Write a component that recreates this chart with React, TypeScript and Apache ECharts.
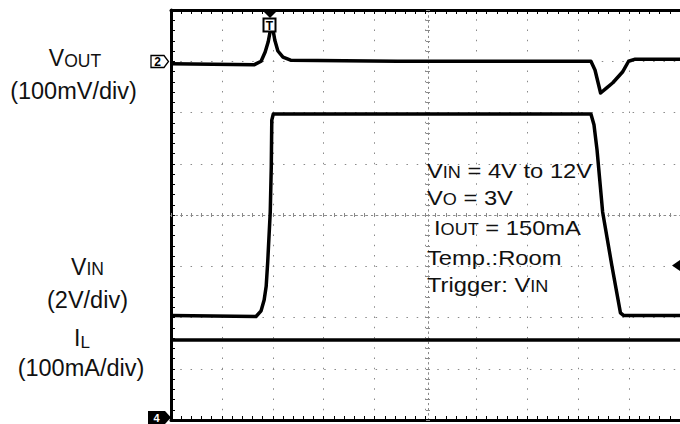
import React, { useEffect, useRef } from "react";
import * as echarts from "echarts";

// Horizontal axis: time in divisions (0..10). Vertical axis: screen divisions (0 = bottom, 8 = top).
const voutTime = [0, 1.63, 1.77, 1.85, 1.91, 1.98, 2.04, 2.1, 2.2, 2.35, 4.45, 8.25, 8.33, 8.44, 8.56, 8.68, 8.87, 8.99, 9.12, 10];
const voutDiv = [6.95, 6.93, 7.0, 7.18, 7.38, 7.75, 7.41, 7.2, 7.08, 7.02, 7.0, 7.0, 6.83, 6.38, 6.48, 6.58, 6.79, 7.0, 7.04, 7.04];

const vinTime = [0, 1.67, 1.77, 1.83, 1.87, 1.9, 1.93, 1.95, 1.97, 1.98, 2.01, 8.25, 8.31, 8.37, 8.48, 8.66, 8.83, 8.89, 10];
const vinDiv = [2.04, 2.02, 2.13, 2.34, 2.61, 3.08, 3.67, 4.06, 4.94, 5.85, 5.97, 5.97, 5.76, 5.27, 4.06, 3.02, 2.09, 2.04, 2.04];

const ilTime = [0, 10];
const ilDiv = [1.56, 1.56];

const FONT = "'Liberation Sans', Arial, Helvetica, sans-serif";
const INK = "#111";
const GRID_GRAY = "#8a8a8a";

function pairs(xs: number[], ys: number[]) {
  return xs.map((x, i) => [x, ys[i]]);
}

function label(x: number, y: number, text: string, size: number, small: number, align: string, scaleX = 1) {
  return {
    type: "text",
    x,
    y,
    scaleX,
    z: 50,
    style: {
      text,
      x: 0,
      y: 0,
      align,
      verticalAlign: "middle",
      fill: INK,
      fontSize: size,
      fontFamily: FONT,
      rich: {
        v: { fontSize: size, fontFamily: FONT, fill: INK, verticalAlign: "bottom" },
        s: { fontSize: small, fontFamily: FONT, fill: INK, verticalAlign: "bottom" },
        n: { fontSize: size, fontFamily: FONT, fill: INK, verticalAlign: "bottom" },
      },
    },
  };
}

const borderAxisX = (position: string) => ({
  type: "value",
  min: 0,
  max: 10,
  interval: 1,
  position,
  axisLine: { show: true, onZero: false, lineStyle: { color: "#000", width: 3 } },
  axisTick: { show: true, inside: true, length: 4, lineStyle: { color: "#000", width: 1 } },
  minorTick: { show: true, splitNumber: 5, length: 4, lineStyle: { color: "#000", width: 1 } },
  axisLabel: { show: false },
  splitLine: { show: false },
});

const centerAxisX = (inside: boolean) => ({
  type: "value",
  min: 0,
  max: 10,
  interval: 1,
  position: "bottom",
  offset: -205,
  axisLine: { show: true, onZero: false, lineStyle: { color: GRID_GRAY, width: 1, type: [1.2, 3.94] } },
  axisTick: { show: true, inside, length: 2, lineStyle: { color: GRID_GRAY, width: 1 } },
  minorTick: { show: true, splitNumber: 5, length: 2, lineStyle: { color: GRID_GRAY, width: 1 } },
  axisLabel: { show: false },
  splitLine: { show: false },
});

const centerAxisY = (inside: boolean) => ({
  type: "value",
  min: 0,
  max: 8,
  interval: 1,
  position: "left",
  offset: -257,
  axisLine: { show: true, onZero: false, lineStyle: { color: GRID_GRAY, width: 1, type: [1.2, 3.9] } },
  axisTick: { show: true, inside, length: 2, lineStyle: { color: GRID_GRAY, width: 1 } },
  minorTick: { show: true, splitNumber: 5, length: 2, lineStyle: { color: GRID_GRAY, width: 1 } },
  axisLabel: { show: false },
  splitLine: { show: false },
});

export default function App() {
  const ref = useRef<HTMLDivElement>(null);

  useEffect(() => {
    document.body.style.margin = "0";
    const chart = echarts.init(ref.current as HTMLDivElement, null, { renderer: "svg" });
    const traceStyle = { color: "#000", width: 3.5, join: "round" };
    chart.setOption({
      animation: false,
      backgroundColor: "#fff",
      grid: { left: 171, top: 10, width: 514, height: 410, containLabel: false },
      xAxis: [
        {
          ...borderAxisX("bottom"),
          splitLine: {
            show: true,
            lineStyle: { color: GRID_GRAY, width: 1, type: [1.5, 8.75], dashOffset: 0.75 },
          },
        },
        borderAxisX("top"),
        centerAxisX(false),
        centerAxisX(true),
      ],
      yAxis: [
        {
          type: "value",
          min: 0,
          max: 8,
          interval: 1,
          position: "left",
          axisLine: { show: true, onZero: false, lineStyle: { color: "#000", width: 3 } },
          axisTick: { show: true, inside: true, length: 4, lineStyle: { color: "#000", width: 1 } },
          minorTick: { show: true, splitNumber: 5, length: 4, lineStyle: { color: "#000", width: 1 } },
          axisLabel: { show: false },
          splitLine: {
            show: true,
            lineStyle: { color: GRID_GRAY, width: 1, type: [1.5, 8.78], dashOffset: 0.75 },
          },
        },
        centerAxisY(false),
        centerAxisY(true),
      ],
      series: [
        {
          name: "VOUT",
          type: "line",
          xAxisIndex: 0,
          yAxisIndex: 0,
          data: pairs(voutTime, voutDiv),
          showSymbol: false,
          lineStyle: traceStyle,
          z: 5,
        },
        {
          name: "VIN",
          type: "line",
          xAxisIndex: 0,
          yAxisIndex: 0,
          data: pairs(vinTime, vinDiv),
          showSymbol: false,
          lineStyle: traceStyle,
          z: 5,
        },
        {
          name: "IL",
          type: "line",
          xAxisIndex: 0,
          yAxisIndex: 0,
          data: pairs(ilTime, ilDiv),
          showSymbol: false,
          lineStyle: traceStyle,
          z: 5,
        },
      ],
      graphic: [
        // channel labels
        label(75, 58, "{v|V}{s|OUT}", 23, 17.5, "center"),
        label(73.5, 91, "(100mV/div)", 23.5, 17.5, "center"),
        label(87.5, 266.5, "{v|V}{s|IN}", 23, 17.5, "center"),
        label(87.5, 299.5, "(2V/div)", 23.5, 17.5, "center"),
        label(74, 337.5, "I", 23, 17, "left"),
        label(80.5, 342, "L", 17, 17, "left"),
        label(81, 367.5, "(100mA/div)", 23.5, 17.5, "center"),
        // conditions
        label(427, 170.5, "{v|V}{s|IN}{n| = 4V to 12V}", 21, 16, "left", 1.13),
        label(427, 197.5, "{v|V}{s|O}{n| = 3V}", 21, 16, "left", 1.13),
        label(434, 227.5, "{v|I}{s|OUT}{n| = 150mA}", 21, 16, "left", 1.13),
        label(427, 257.5, "Temp.:Room", 21, 16, "left", 1.13),
        label(427, 284.5, "{n|Trigger: }{v|V}{s|IN}", 21, 16, "left", 1.13),
        // channel 2 marker
        {
          type: "polygon",
          z: 60,
          shape: { points: [[151, 55.5], [164, 55.5], [168.5, 61.5], [164, 67.5], [151, 67.5]] },
          style: { fill: "#fff", stroke: "#000", lineWidth: 1.3 },
        },
        {
          type: "text",
          z: 61,
          x: 157.5,
          y: 61.8,
          style: { text: "2", align: "center", verticalAlign: "middle", fill: "#000", fontSize: 12, fontWeight: "bold", fontFamily: FONT },
        },
        // trigger position marker
        {
          type: "polygon",
          z: 60,
          shape: { points: [[262, 10], [278, 10], [270, 18]] },
          style: { fill: "#000" },
        },
        {
          type: "rect",
          z: 60,
          shape: { x: 263.5, y: 18.5, width: 12, height: 13 },
          style: { fill: "#fff", stroke: "#000", lineWidth: 2 },
        },
        {
          type: "text",
          z: 61,
          x: 269.5,
          y: 25.5,
          style: { text: "T", align: "center", verticalAlign: "middle", fill: "#000", fontSize: 12, fontWeight: "bold", fontFamily: FONT },
        },
        // channel 4 marker
        {
          type: "polygon",
          z: 60,
          shape: { points: [[148, 411], [165, 411], [171, 417.5], [165, 424], [148, 424]] },
          style: { fill: "#000" },
        },
        {
          type: "text",
          z: 61,
          x: 156.5,
          y: 417.5,
          style: { text: "4", align: "center", verticalAlign: "middle", fill: "#fff", fontSize: 11, fontWeight: "bold", fontFamily: FONT },
        },
        // trigger level marker
        {
          type: "polygon",
          z: 60,
          shape: { points: [[672, 265.5], [680, 260], [680, 271]] },
          style: { fill: "#000" },
        },
      ],
    });
    return () => chart.dispose();
  }, []);

  return (
    <div
      ref={ref}
      style={{ position: "absolute", left: 0, top: 0, width: 680, height: 424, background: "#fff" }}
    />
  );
}
